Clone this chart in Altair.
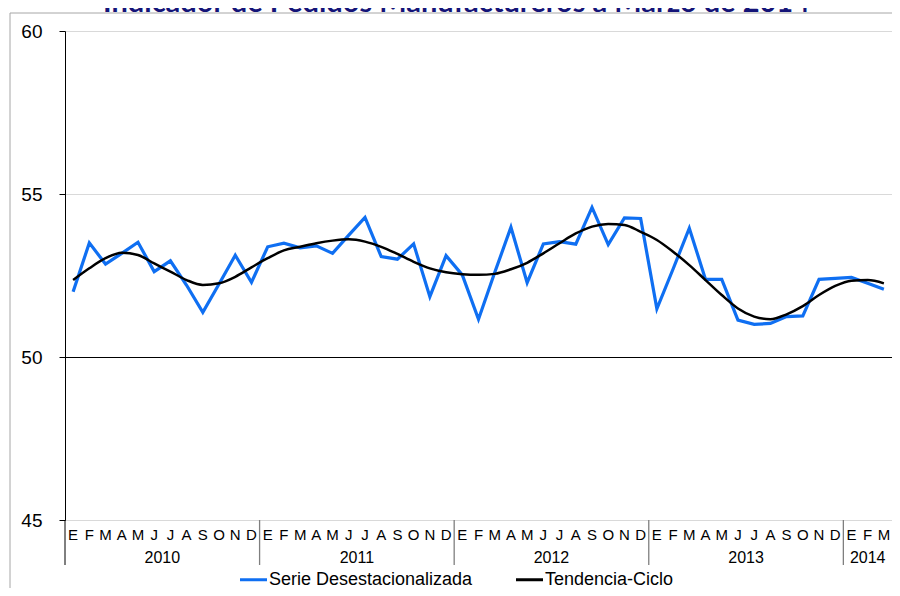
import altair as alt
import pandas as pd

MONTH_LETTERS = ["E", "F", "M", "A", "M", "J", "J", "A", "S", "O", "N", "D"]
YEARS = ["2010", "2011", "2012", "2013", "2014"]
MONTHS_PER_YEAR = [12, 12, 12, 12, 3]
TITLE = ["Indicador de Pedidos Manufactureros a Marzo de 2014"]

SERIE = [52.00, 53.50, 52.85, 53.18, 53.52, 52.62, 52.95, 52.20, 51.37, 52.24, 53.12, 52.29,
         53.38, 53.49, 53.35, 53.41, 53.18, 53.74, 54.28, 53.08, 53.00, 53.47, 51.85, 53.11,
         52.52, 51.16, 52.59, 53.98, 52.28, 53.47, 53.54, 53.46, 54.59, 53.45, 54.27, 54.25,
         51.48, 52.70, 53.95, 52.38, 52.38, 51.13, 51.00, 51.03, 51.24, 51.26, 52.38, 52.41,
         52.44, 52.26, 52.08]
TENDENCIA = [52.36, 52.72, 53.03, 53.20, 53.13, 52.87, 52.62, 52.36, 52.21, 52.26, 52.46, 52.75,
             53.03, 53.27, 53.38, 53.49, 53.57, 53.61, 53.54, 53.38, 53.16, 52.92, 52.72, 52.60,
             52.54, 52.52, 52.55, 52.69, 52.89, 53.18, 53.49, 53.79, 54.00, 54.08, 54.05, 53.84,
             53.59, 53.23, 52.82, 52.36, 51.90, 51.49, 51.24, 51.16, 51.31, 51.56, 51.90, 52.18,
             52.34, 52.36, 52.26]

S1 = "Serie Desestacionalizada"
S2 = "Tendencia-Ciclo"
BLUE = "#0F6FF2"
FONT = "Liberation Sans"

n = len(SERIE)
rows = []
for i in range(n):
    rows.append({"idx": i, "serie": S1, "valor": SERIE[i]})
    rows.append({"idx": i, "serie": S2, "valor": TENDENCIA[i]})
df = pd.DataFrame(rows)

months_df = pd.DataFrame({"idx": list(range(n)),
                          "m": [MONTH_LETTERS[i % 12] for i in range(n)]})

centers, seps = [], []
start = 0
for y, m in zip(YEARS, MONTHS_PER_YEAR):
    centers.append({"year": y, "c": start + (m - 1) / 2})
    seps.append({"b": start - 0.5})
    start += m
years_df = pd.DataFrame(centers)
seps_df = pd.DataFrame(seps[1:])
first_df = pd.DataFrame(seps[:1])
title_df = pd.DataFrame({"t": TITLE, "c": [(n - 1) / 2]})

xscale = alt.Scale(domain=[-0.5, n - 0.5], nice=False, zero=False)
yscale = alt.Scale(domain=[45, 60], nice=False, zero=False)
color = alt.Color("serie:N", scale=alt.Scale(domain=[S1, S2], range=[BLUE, "black"]),
                  legend=alt.Legend(title=None, orient="none", direction="horizontal",
                                    legendX=173, legendY=533, symbolType="stroke",
                                    symbolSize=730, symbolStrokeWidth=3,
                                    labelFont=FONT, labelFontSize=18, labelColor="black",
                                    labelLimit=400, columnPadding=36, labelOffset=0))

base = alt.Chart(df)
y_enc = alt.Y("valor:Q", scale=yscale,
              axis=alt.Axis(values=[45, 50, 55, 60], title=None, tickSize=6,
                            tickColor="black", domainColor="black", labelFont=FONT,
                            labelFontSize=19, labelColor="black", labelPadding=17,
                            gridColor=alt.condition(alt.datum.value == 50,
                                                    alt.value("black"), alt.value("#d9d9d9")),
                            gridWidth=1.2))

blue = base.transform_filter(alt.datum.serie == S1).mark_line(strokeWidth=3.2).encode(
    x=alt.X("idx:Q", scale=xscale, axis=None), y=y_enc, color=color)
black = base.transform_filter(alt.datum.serie == S2).mark_line(
    strokeWidth=2.5, interpolate="monotone").encode(
    x=alt.X("idx:Q", scale=xscale, axis=None), y="valor:Q", color=color)

month_text = alt.Chart(months_df).mark_text(font=FONT, fontSize=15, color="black",
                                            baseline="middle").encode(
    x=alt.X("idx:Q", scale=xscale, axis=None), y=alt.value(504), text="m:N")
sep_rules = alt.Chart(seps_df).mark_rule(color="#7f7f7f", strokeWidth=1.3).encode(
    x=alt.X("b:Q", scale=xscale, axis=None), y=alt.value(489), y2=alt.value(534))
first_rule = alt.Chart(first_df).mark_rule(color="black", strokeWidth=1).encode(
    x=alt.X("b:Q", scale=xscale, axis=None), y=alt.value(489), y2=alt.value(534))
year_text = alt.Chart(years_df).mark_text(font=FONT, fontSize=16, color="black",
                                          baseline="middle").encode(
    x=alt.X("c:Q", scale=xscale, axis=None), y=alt.value(527), text="year:N")
title_text = alt.Chart(title_df).mark_text(font="Lato", fontSize=29, fontWeight="bold",
                                           color="#141478", baseline="alphabetic",
                                           dx=-22).encode(
    x=alt.X("c:Q", scale=xscale, axis=None), y=alt.value(-19), text="t:N")

frame_v = alt.Chart(first_df).mark_rule(color="#a6a6a6", strokeWidth=1).encode(
    x=alt.value(-55), y=alt.value(-18), y2=alt.value(700))
frame_h = alt.Chart(first_df).mark_rule(color="#a6a6a6", strokeWidth=1).encode(
    y=alt.value(-18), x=alt.value(-55), x2=alt.value(900))

chart = alt.layer(blue, black, frame_v, frame_h, month_text, sep_rules, first_rule,
                  year_text, title_text).properties(
    width=827, height=489,
    autosize=alt.AutoSizeParams(type="none"),
    padding={"left": 57, "top": 23, "right": 0, "bottom": 68},
).configure_view(stroke=None)

chart.save("out.html", embed_options={"renderer": "svg", "actions": False})
